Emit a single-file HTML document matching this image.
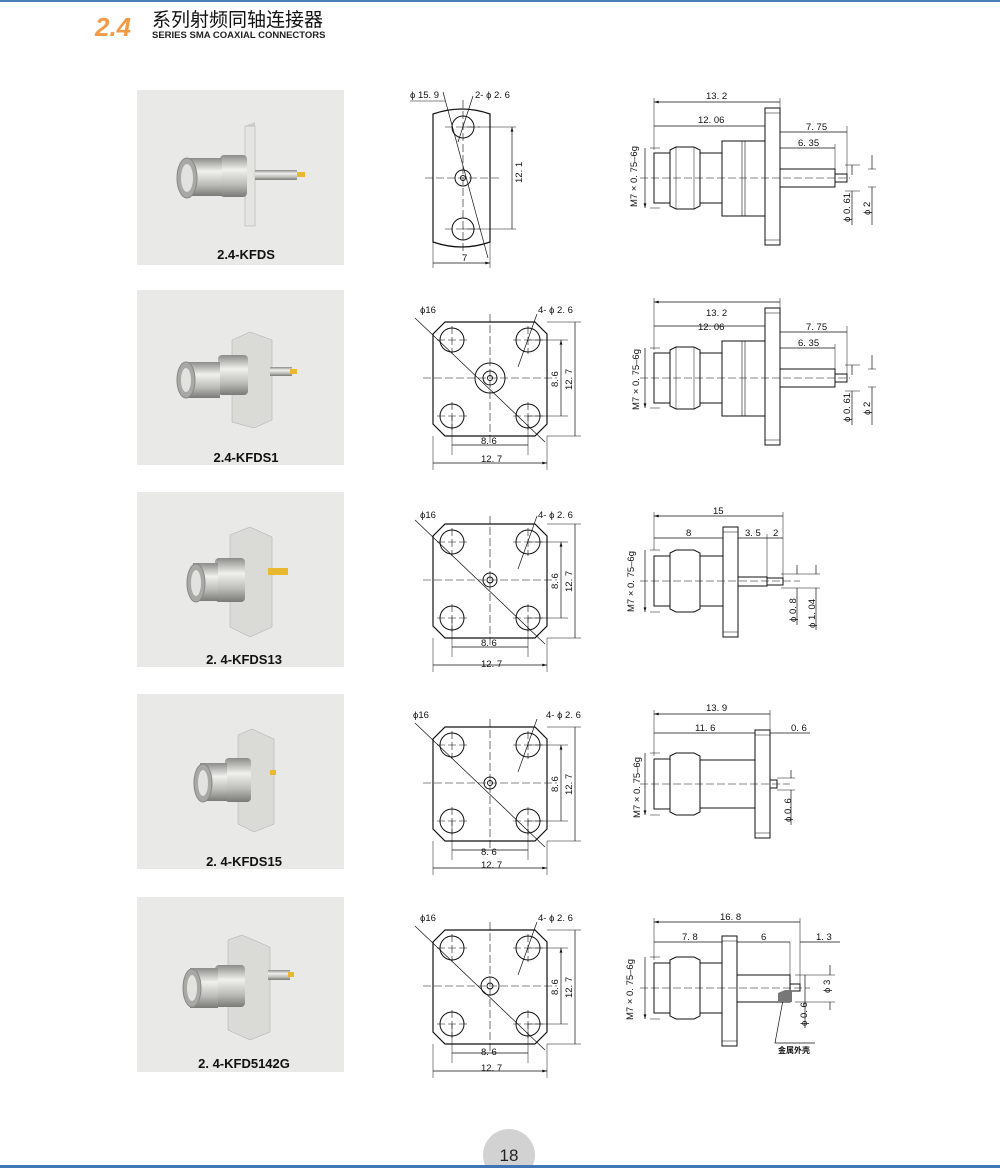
<!DOCTYPE html>
<html><head><meta charset="utf-8"><style>
html,body{margin:0;padding:0;background:#fff}
svg{display:block}
text{font-family:"Liberation Sans",Arial,sans-serif;fill:#111}
.d{font-size:9.5px}
.cap{font-size:13px;font-weight:bold}
</style></head><body>
<svg width="1000" height="1168" viewBox="0 0 1000 1168" xmlns="http://www.w3.org/2000/svg">
<defs>
<marker id="a" viewBox="0 0 10 6" refX="10" refY="3" markerWidth="7" markerHeight="4" orient="auto-start-reverse"><path d="M0,0L10,3L0,6z" fill="#111"/></marker>
<linearGradient id="mg" x1="0" y1="0" x2="0" y2="1"><stop offset="0" stop-color="#8c8c88"/><stop offset=".35" stop-color="#f0f0ec"/><stop offset=".7" stop-color="#bcbcb8"/><stop offset="1" stop-color="#7a7a76"/></linearGradient>
<g id="sq" fill="none" stroke="#111" stroke-width="1">
<path d="M12,0H102L114,12V102L102,114H12L0,102V12Z" stroke-width="1.2"/>
<circle cx="19" cy="18" r="12"/><circle cx="95" cy="18" r="12"/><circle cx="19" cy="94" r="12"/><circle cx="95" cy="94" r="12"/>
<g stroke-dasharray="8,3" stroke-width=".6"><path d="M-10,56H124M57,-8V122M4,18H34M80,18H110M4,94H34M80,94H110M19,4V32M95,4V32M19,80V108M95,80V108"/></g>
<path d="M-18,-4L112,120" stroke-width=".7"/>
<path d="M104,-8L85,45" stroke-width=".7"/>
<path d="M95,18H135M95,94H135M114,0H148M114,114H148M19,94V133M95,94V133M0,114V148M114,114V148" stroke-width=".5"/>
<path d="M128,18V94M142,0V114M19,123H95M0,141H114" stroke-width=".7" marker-start="url(#a)" marker-end="url(#a)"/>
</g>
<g id="photo">
<rect x="0" y="0" width="207" height="175" fill="#e9e9e7"/>
</g>
</defs>

<rect x="0" y="0" width="1000" height="2" fill="#4a7fb8"/>
<text x="95" y="36" style="font-size:26px;font-weight:bold;font-style:italic;fill:#f29a45">2.4</text>
<text x="152" y="26" style="font-size:19px;font-family:'Liberation Sans','Noto Sans CJK SC',sans-serif">系列射频同轴连接器</text>
<text x="152" y="38" style="font-size:9.5px;font-weight:bold;fill:#222">SERIES SMA  COAXIAL CONNECTORS</text>

<g>
<use href="#photo" x="137" y="90"/><use href="#photo" x="137" y="290"/><use href="#photo" x="137" y="492"/><use href="#photo" x="137" y="694"/><use href="#photo" x="137" y="897"/>
</g>
<g>
<path d="M245,126l10,-4v100l-10,4z" fill="#cfcfcb"/><rect x="245" y="126" width="10" height="100" fill="#e4e4e0" stroke="#aaa" stroke-width=".5"/>
<rect x="255" y="170" width="42" height="10" fill="url(#mg)"/><rect x="297" y="172" width="8" height="5" fill="#e8b830"/>
<rect x="220" y="155" width="27" height="42" rx="4" fill="url(#mg)"/>
<rect x="190" y="158" width="32" height="38" fill="url(#mg)"/>
<ellipse cx="187" cy="178" rx="10" ry="20" fill="#a8a8a4" stroke="#888"/><ellipse cx="187" cy="178" rx="6" ry="14" fill="#e2e2de"/>
<text x="246" y="259" class="cap" text-anchor="middle">2.4-KFDS</text>
</g>
<g>
<path d="M232,340l18,-8l22,8v80l-18,8l-22,-6z" fill="#dadad6" stroke="#aaa" stroke-width=".5"/>
<rect x="270" y="367" width="22" height="9" fill="url(#mg)"/><rect x="290" y="369" width="7" height="5" fill="#e8b830"/>
<rect x="218" y="355" width="30" height="40" rx="4" fill="url(#mg)"/>
<rect x="188" y="362" width="32" height="36" fill="url(#mg)"/>
<ellipse cx="186" cy="380" rx="9" ry="18" fill="#a8a8a4" stroke="#888"/><ellipse cx="186" cy="380" rx="5" ry="12" fill="#e2e2de"/>
<text x="246" y="462" class="cap" text-anchor="middle">2.4-KFDS1</text>
</g>
<g>
<path d="M230,535l20,-8l22,10v90l-22,10l-20,-10z" fill="#dadad6" stroke="#aaa" stroke-width=".5"/>
<rect x="268" y="568" width="20" height="7" fill="#e8b830"/>
<rect x="215" y="558" width="30" height="44" rx="4" fill="url(#mg)"/>
<rect x="193" y="563" width="25" height="38" fill="url(#mg)"/>
<ellipse cx="196" cy="583" rx="9" ry="19" fill="#a8a8a4" stroke="#888"/><ellipse cx="196" cy="583" rx="5" ry="13" fill="#e2e2de"/>
<text x="244" y="664" class="cap" text-anchor="middle">2. 4-KFDS13</text>
</g>
<g>
<path d="M238,735l14,-6l22,10v85l-20,8l-16,-8z" fill="#dadad6" stroke="#aaa" stroke-width=".5"/>
<rect x="270" y="770" width="6" height="5" fill="#e8b830"/>
<rect x="225" y="758" width="26" height="44" rx="4" fill="url(#mg)"/>
<rect x="200" y="763" width="27" height="38" fill="url(#mg)"/>
<ellipse cx="203" cy="783" rx="9" ry="19" fill="#a8a8a4" stroke="#888"/><ellipse cx="203" cy="783" rx="5" ry="13" fill="#e2e2de"/>
<text x="244" y="866" class="cap" text-anchor="middle">2. 4-KFDS15</text>
</g>
<g>
<path d="M228,940l14,-5l28,12v85l-20,8l-22,-10z" fill="#dadad6" stroke="#aaa" stroke-width=".5"/>
<rect x="268" y="970" width="22" height="10" fill="url(#mg)"/><rect x="288" y="972" width="6" height="5" fill="#e8b830"/>
<rect x="215" y="965" width="30" height="42" rx="4" fill="url(#mg)"/>
<rect x="190" y="968" width="28" height="40" fill="url(#mg)"/>
<ellipse cx="192" cy="988" rx="9" ry="19" fill="#a8a8a4" stroke="#888"/><ellipse cx="192" cy="988" rx="5" ry="13" fill="#e2e2de"/>
<text x="244" y="1068" class="cap" text-anchor="middle">2. 4-KFD5142G</text>
</g>

<g fill="none" stroke="#111">
<path d="M433,114Q462,104 490,114V242Q462,252 433,242Z" stroke-width="1.2"/>
<circle cx="463" cy="127" r="11"/><circle cx="463" cy="229" r="11"/><circle cx="463" cy="178" r="8"/><circle cx="463" cy="178" r="2.5"/>
<path d="M425,178H500M463,100V255M445,127H480M445,229H480" stroke-dasharray="8,3" stroke-width=".6"/>
<path d="M443,92L488,258" stroke-width=".7"/><path d="M473,96L458,142" stroke-width=".7"/>
<path d="M463,127H516M463,229H516M433,242V268M490,242V268" stroke-width=".5"/>
<path d="M512,127V229M433,263H490" stroke-width=".7" marker-start="url(#a)" marker-end="url(#a)"/>
<path d="M410,101H445" stroke-width=".6"/>
</g>
<text x="410" y="98" class="d">ϕ 15. 9</text><text x="475" y="98" class="d">2- ϕ 2. 6</text>
<text x="462" y="261" class="d">7</text>
<text class="d" transform="translate(522,183) rotate(-90)">12. 1</text>

<use href="#sq" x="433" y="322"/><use href="#sq" x="433" y="524"/><use href="#sq" x="433" y="727"/><use href="#sq" x="433" y="930"/>
<g fill="none" stroke="#111"><circle cx="490" cy="378" r="7"/><circle cx="490" cy="378" r="2.5"/><circle cx="490" cy="580" r="7"/><circle cx="490" cy="580" r="3"/><circle cx="490" cy="783" r="6"/><circle cx="490" cy="783" r="2.5"/><circle cx="490" cy="986" r="9"/><circle cx="490" cy="986" r="3"/></g>
<circle cx="490" cy="378" r="15" fill="none" stroke="#111"/>
<g class="d">
<text x="420" y="313">ϕ16</text><text x="538" y="313">4- ϕ 2. 6</text><text x="481" y="444">8. 6</text><text x="481" y="462">12. 7</text>
<text x="420" y="518">ϕ16</text><text x="538" y="518">4- ϕ 2. 6</text><text x="481" y="646">8. 6</text><text x="481" y="667">12. 7</text>
<text x="413" y="718">ϕ16</text><text x="546" y="718">4- ϕ 2. 6</text><text x="481" y="855">8. 6</text><text x="481" y="868">12. 7</text>
<text x="420" y="921">ϕ16</text><text x="538" y="921">4- ϕ 2. 6</text><text x="481" y="1055">8. 6</text><text x="481" y="1071">12. 7</text>
</g>
<g class="d">
<text transform="translate(558,387) rotate(-90)">8. 6</text><text transform="translate(572,390) rotate(-90)">12. 7</text>
<text transform="translate(558,589) rotate(-90)">8. 6</text><text transform="translate(572,592) rotate(-90)">12. 7</text>
<text transform="translate(558,792) rotate(-90)">8. 6</text><text transform="translate(572,795) rotate(-90)">12. 7</text>
<text transform="translate(558,995) rotate(-90)">8. 6</text><text transform="translate(572,998) rotate(-90)">12. 7</text>
</g>

<g id="s1" fill="none" stroke="#111" stroke-width="1">
<rect x="654" y="153" width="16" height="50"/>
<path d="M670,150L676,147H694L700,150V206L694,209H676L670,206Z"/>
<path d="M676,147V209M694,147V209" stroke-width=".5"/>
<rect x="700" y="153" width="22" height="50"/>
<rect x="722" y="141" width="43" height="75"/><path d="M742,141V216M745,141V216" stroke-width=".6"/>
<rect x="765" y="108" width="15" height="137"/><path d="M765,113H780M765,240H780" stroke-width=".6"/>
<rect x="780" y="169" width="55" height="18"/><rect x="835" y="174" width="12" height="8"/>
<path d="M640,178H850" stroke-dasharray="8,3" stroke-width=".6"/>
<path d="M654,98V150M780,98V108M765,122V108M780,126V168M847,126V174M835,144V169M650,148H660M650,208H660M845,165H860M845,191H860M868,169H876M868,187H876" stroke-width=".5"/>
<path d="M654,102H780M654,126H765M780,132H847M780,148H835M645,148V208" stroke-width=".7" marker-start="url(#a)" marker-end="url(#a)"/>
<path d="M852,165V175M852,191V225M872,155V169M872,187V225" stroke-width=".7"/>
</g>
<g class="d">
<text x="706" y="99">13. 2</text><text x="698" y="123">12. 06</text><text x="806" y="130">7. 75</text><text x="798" y="146">6. 35</text>
<text transform="translate(637,207) rotate(-90)">M7 × 0. 75–6g</text>
<text transform="translate(850,222) rotate(-90)">ϕ 0. 61</text><text transform="translate(870,215) rotate(-90)">ϕ 2</text>
</g>
<use href="#s1" x="0" y="200"/>
<g class="d">
<text x="706" y="316">13. 2</text><text x="698" y="330">12. 06</text><text x="806" y="330">7. 75</text><text x="798" y="346">6. 35</text>
<text transform="translate(639,410) rotate(-90)">M7 × 0. 75–6g</text>
<text transform="translate(850,422) rotate(-90)">ϕ 0. 61</text><text transform="translate(870,415) rotate(-90)">ϕ 2</text>
</g>

<g fill="none" stroke="#111">
<rect x="654" y="556" width="16" height="50"/>
<path d="M670,553L676,550H694L700,553V609L694,612H676L670,609Z"/>
<rect x="700" y="556" width="23" height="50"/>
<rect x="723" y="527" width="15" height="110"/><path d="M723,532H738M723,632H738" stroke-width=".6"/>
<rect x="738" y="577" width="29" height="9"/><rect x="767" y="578" width="16" height="7"/>
<path d="M640,581H800" stroke-dasharray="8,3" stroke-width=".6"/>
<path d="M654,512V550M783,512V578M767,534V577M650,550H660M650,612H660M781,574H820M781,588H820" stroke-width=".5"/>
<path d="M654,516H783M654,538H723M738,538H767M767,538H783M645,550V612" stroke-width=".7" marker-start="url(#a)" marker-end="url(#a)"/>
<path d="M797,565V574M797,588V625M816,565V574M816,588V630" stroke-width=".7"/>
</g>
<g class="d">
<text x="713" y="514">15</text><text x="686" y="536">8</text><text x="745" y="536">3. 5</text><text x="773" y="536">2</text>
<text transform="translate(634,612) rotate(-90)">M7 × 0. 75–6g</text>
<text transform="translate(796,622) rotate(-90)">ϕ 0. 8</text><text transform="translate(815,628) rotate(-90)">ϕ 1. 04</text>
</g>

<g fill="none" stroke="#111">
<rect x="654" y="759" width="16" height="50"/>
<path d="M670,756L676,753H694L700,756V812L694,815H676L670,812Z"/>
<rect x="700" y="760" width="55" height="48"/>
<rect x="755" y="730" width="15" height="108"/><path d="M755,735H770M755,833H770" stroke-width=".6"/>
<rect x="770" y="780" width="7" height="8"/>
<path d="M640,784H790" stroke-dasharray="8,3" stroke-width=".6"/>
<path d="M654,710V756M770,710V730M650,753H660M650,815H660M777,778H795M777,790H795" stroke-width=".5"/>
<path d="M654,714H770M654,733H755M645,753V815" stroke-width=".7" marker-start="url(#a)" marker-end="url(#a)"/>
<path d="M770,733H810M791,770V778M791,790V825" stroke-width=".7"/>
</g>
<g class="d">
<text x="706" y="711">13. 9</text><text x="695" y="731">11. 6</text><text x="791" y="731">0. 6</text>
<text transform="translate(640,818) rotate(-90)">M7 × 0. 75–6g</text>
<text transform="translate(791,822) rotate(-90)">ϕ 0. 6</text>
</g>

<g fill="none" stroke="#111">
<rect x="654" y="963" width="16" height="50"/>
<path d="M670,960L676,957H694L700,960V1016L694,1019H676L670,1016Z"/>
<rect x="700" y="963" width="22" height="50"/>
<rect x="722" y="936" width="15" height="110"/><path d="M722,941H737M722,1041H737" stroke-width=".6"/>
<rect x="737" y="975" width="53" height="27"/><rect x="790" y="984" width="10" height="7"/>
<path d="M640,988H810" stroke-dasharray="8,3" stroke-width=".6"/>
<path d="M654,918V960M800,918V984M737,942V936M790,942V975M650,957H660M650,1019H660M795,975H835M795,1002H835" stroke-width=".5"/>
<path d="M654,922H800M654,942H722M737,942H790M645,957V1019" stroke-width=".7" marker-start="url(#a)" marker-end="url(#a)"/>
<path d="M800,942H840M805,975V1028M830,965V975M830,1002V1010M783,1000L775,1043H815" stroke-width=".7"/>
</g>
<path d="M778,993L785,990H792V1002H778Z" fill="#777"/>
<g class="d">
<text x="720" y="920">16. 8</text><text x="682" y="940">7. 8</text><text x="761" y="940">6</text><text x="816" y="940">1. 3</text>
<text transform="translate(633,1020) rotate(-90)">M7 × 0. 75–6g</text>
<text transform="translate(807,1026) rotate(-90)">ϕ 0. 6</text><text transform="translate(830,993) rotate(-90)">ϕ 3</text>
<text x="778" y="1053" style="font-size:8px;font-family:'Liberation Sans','Noto Sans CJK SC',sans-serif;font-weight:bold">金属外壳</text>
</g>

<circle cx="509" cy="1155" r="26" fill="#d2d2d2"/>
<rect x="0" y="1165" width="1000" height="3" fill="#3f74b5"/>
<text x="509" y="1161" text-anchor="middle" style="font-size:17px;fill:#222">18</text>
</svg>
</body></html>
